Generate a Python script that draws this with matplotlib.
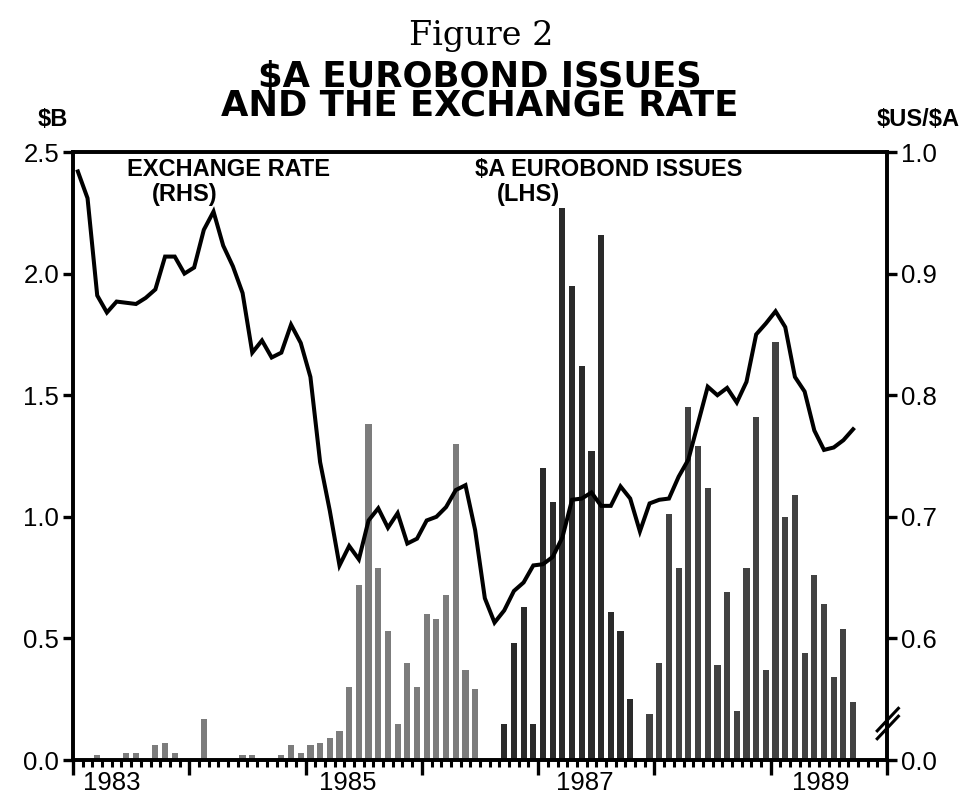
import numpy as np
import matplotlib
matplotlib.use('Agg')
import matplotlib.pyplot as plt
import matplotlib.transforms as mtransforms

# monthly data, month 0 = start of the axis
issues = [0, 0, 0.02, 0, 0, 0.03, 0.03, 0, 0.06, 0.07, 0.03, 0, 0, 0.17, 0, 0,
          0, 0.02, 0.02, 0, 0, 0.02, 0.06, 0.03, 0.06, 0.07, 0.09, 0.12, 0.30, 0.72,
          1.38, 0.79, 0.53, 0.15, 0.40, 0.30, 0.60, 0.58, 0.68, 1.30, 0.37, 0.29,
          0, 0, 0.15, 0.48, 0.63, 0.15, 1.20, 1.06, 2.27, 1.95, 1.62, 1.27, 2.16,
          0.61, 0.53, 0.25, 0, 0.19, 0.40, 1.01, 0.79, 1.45, 1.29, 1.12, 0.39, 0.69,
          0.20, 0.79, 1.41, 0.37, 1.72, 1.00, 1.09, 0.44, 0.76, 0.64, 0.34, 0.54, 0.24]

rate = [0.984, 0.962, 0.882, 0.868, 0.877, 0.876, 0.875, 0.880, 0.887, 0.914,
        0.914, 0.900, 0.905, 0.936, 0.951, 0.923, 0.906, 0.884, 0.835, 0.845,
        0.831, 0.835, 0.858, 0.843, 0.815, 0.745, 0.705, 0.660, 0.676, 0.665,
        0.697, 0.707, 0.691, 0.703, 0.678, 0.682, 0.697, 0.700, 0.708, 0.722,
        0.726, 0.689, 0.633, 0.613, 0.623, 0.639, 0.646, 0.660, 0.661, 0.667,
        0.683, 0.714, 0.715, 0.720, 0.709, 0.709, 0.725, 0.715, 0.688, 0.711,
        0.714, 0.715, 0.733, 0.747, 0.777, 0.807, 0.800, 0.806, 0.794, 0.811,
        0.850, 0.859, 0.869, 0.856, 0.815, 0.803, 0.771, 0.755, 0.757, 0.763,
        0.772]

year_labels = ['1983', '1985', '1987', '1989']
n_months = 84

W, H = 963, 805
fig = plt.figure(figsize=(W / 100, H / 100), dpi=100)

def fx(x):
    return x / W

def fy(y):
    return 1 - y / H

sans = 'Liberation Sans'
ax = fig.add_axes([fx(73), fy(760), fx(887) - fx(73), fy(152) - fy(760)])

months = np.arange(len(issues)) + 0.5
colors = ['#7c7c7c' if i < 44 else ('#2a2a2a' if i < 58 else '#424242')
          for i in range(len(issues))]
ax.bar(months, issues, width=0.64, color=colors, linewidth=0)
ax.set_xlim(0, n_months)
ax.set_ylim(0, 2.5)
ax.set_yticks([0, 0.5, 1.0, 1.5, 2.0, 2.5])
ax.set_yticklabels(['0.0', '0.5', '1.0', '1.5', '2.0', '2.5'])

ax.set_xticks(np.arange(0, n_months + 1, 12))
ax.set_xticklabels([])
ax.set_xticks(np.arange(0, n_months + 1, 1), minor=True)
ax.tick_params(axis='x', which='major', length=11, width=2.4, direction='out')
ax.tick_params(axis='x', which='minor', length=5, width=2.2, direction='out')
ax.tick_params(axis='y', length=7, width=2.4, direction='out', pad=3,
               labelsize=18.5)
for lab in ax.get_yticklabels():
    lab.set_fontfamily(sans)

# year labels sit left of each year's middle
trans = mtransforms.blended_transform_factory(ax.transData, ax.transAxes)
for k, lab in enumerate(year_labels):
    ax.text(4 + k * 24.4, -0.038, lab, transform=trans, ha='center', va='center',
            fontsize=18.5, family=sans)

ax2 = ax.twinx()
ax2.plot(months, rate, color='black', lw=2.9, solid_joinstyle='miter')
ax2.set_ylim(0.5, 1.0)
ax2.set_yticks([0.5, 0.6, 0.7, 0.8, 0.9, 1.0])
ax2.set_yticklabels(['0.0', '0.6', '0.7', '0.8', '0.9', '1.0'])
ax2.tick_params(axis='y', length=7, width=2.4, direction='out', pad=3,
                labelsize=18.5)
for lab in ax2.get_yticklabels():
    lab.set_fontfamily(sans)

for a in (ax, ax2):
    for s in a.spines.values():
        s.set_linewidth(2.6)

# axis break marks on the right scale
for dy in (0, 0.013):
    ax2.plot([0.988, 1.014], [0.035 + dy, 0.072 + dy], transform=ax2.transAxes,
             color='black', lw=2.2, clip_on=False)

# in-chart labels
ax.text((127 - 73) / 814, (760 - 170) / 608, 'EXCHANGE RATE', transform=ax.transAxes,
        fontsize=17, fontweight='bold', family=sans, va='center', ha='left')
ax.text((152 - 73) / 814, (760 - 194) / 608, '(RHS)', transform=ax.transAxes,
        fontsize=17, fontweight='bold', family=sans, va='center', ha='left')
ax.text((475 - 73) / 814, (760 - 170) / 608, '$A EUROBOND ISSUES', transform=ax.transAxes,
        fontsize=17, fontweight='bold', family=sans, va='center', ha='left')
ax.text((497 - 73) / 814, (760 - 194) / 608, '(LHS)', transform=ax.transAxes,
        fontsize=17, fontweight='bold', family=sans, va='center', ha='left')

# titles and unit labels
fig.text(fx(481), fy(36), 'Figure 2', ha='center', va='center', fontsize=24,
         family='DejaVu Serif')
fig.text(fx(480), fy(91), '$A EUROBOND ISSUES\nAND THE EXCHANGE RATE',
         ha='center', va='center', multialignment='center', linespacing=0.8,
         fontsize=25.5, fontweight='bold', family='DejaVu Sans')
fig.text(fx(38), fy(119), '$B', ha='left', va='center', fontsize=17,
         fontweight='bold', family=sans)
fig.text(fx(960), fy(119), r'\$US/\$A', ha='right', va='center', fontsize=17,
         fontweight='bold', family=sans)

fig.savefig('out.png', dpi=100)
